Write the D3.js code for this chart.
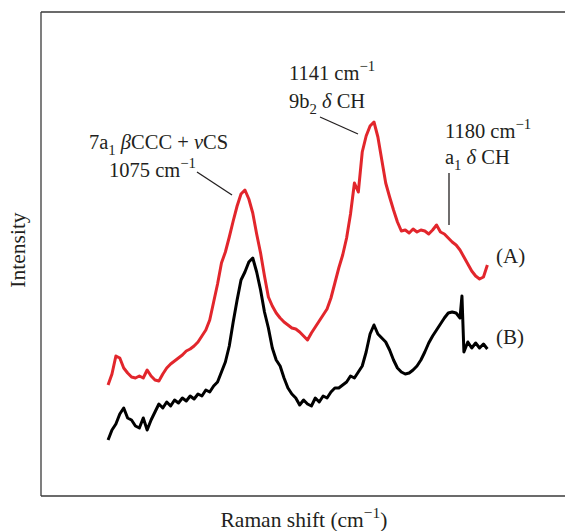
<!DOCTYPE html>
<html>
<head>
<meta charset="utf-8">
<script src="https://cdn.jsdelivr.net/npm/d3@7"></script>
<style>
  html, body { margin: 0; padding: 0; background: #fff; }
  svg text { font-family: "Liberation Serif", "DejaVu Serif", serif; fill: #231f20; }
</style>
</head>
<body>
<div id="chart"></div>
<script>
// Raman shift (cm-1), sampled every 2 cm-1 (one extra point for the spike in B)
const shiftA = [1006,1008,1010,1012,1014,1016,1018,1020,1022,1024,1026,1028,1030,1032,1034,1036,1038,1040,1042,1044,1046,1048,1050,1052,1054,1056,1058,1060,1062,1064,1066,1068,1070,1072,1074,1076,1078,1080,1082,1084,1086,1088,1090,1092,1094,1096,1098,1100,1102,1104,1106,1108,1110,1112,1114,1116,1118,1120,1122,1124,1126,1128,1130,1132,1134,1136,1138,1140,1142,1144,1146,1148,1150,1152,1154,1156,1158,1160,1162,1164,1166,1168,1170,1172,1174,1176,1178,1180,1182,1184,1186,1188,1190,1192,1194,1196,1198,1200];
const intensityA = [111,122,140,138,128,123,119,118,120,118,126,120,116,115,122,128,132,135,138,141,145,147,150,154,160,166,176,194,212,233,244,259,275,290,302,306,297,283,262,243,220,199,190,183,178,174,171,168,167,164,160,156,163,169,175,181,187,198,213,228,241,258,282,313,304,344,360,370,374,359,336,313,299,286,274,265,266,263,267,264,266,265,262,266,271,264,262,258,254,251,246,239,232,225,220,217,219,231];

const shiftB = [1006,1008,1010,1012,1014,1016,1018,1020,1022,1024,1026,1028,1030,1032,1034,1036,1038,1040,1042,1044,1046,1048,1050,1052,1054,1056,1058,1060,1062,1064,1066,1068,1070,1072,1074,1076,1078,1080,1082,1084,1086,1088,1090,1092,1094,1096,1098,1100,1102,1104,1106,1108,1110,1112,1114,1116,1118,1120,1122,1124,1126,1128,1130,1132,1134,1136,1138,1140,1142,1144,1146,1148,1150,1152,1154,1156,1158,1160,1162,1164,1166,1168,1170,1172,1174,1176,1178,1180,1182,1184,1186,1187,1188,1190,1192,1194,1196,1198,1200];
const intensityB = [56,66,72,82,88,78,76,70,68,78,66,76,84,92,88,94,90,96,93,98,95,100,97,102,100,106,104,110,114,124,134,150,174,196,216,224,234,238,224,206,184,168,148,136,130,118,108,102,98,91,96,92,90,98,94,100,98,104,108,108,111,114,120,118,124,130,144,162,171,162,158,154,146,136,128,124,122,123,126,130,136,144,153,160,166,172,178,183,184,183,178,200,144,154,148,153,148,152,147];

const width = 565, height = 531;
const margin = {top: 12, right: 0, bottom: 35, left: 41};

const svg = d3.select("#chart").append("svg")
  .attr("width", width)
  .attr("height", height);

const x = d3.scaleLinear()
  .domain([971.7, 1239.7])
  .range([margin.left, width - margin.right]);

const y = d3.scaleLinear()
  .domain([0, 484])
  .range([height - margin.bottom, margin.top]);

// frame (right side falls off the picture)
const frame = svg.append("g").attr("stroke", "#3a3a3a").attr("stroke-width", 1.3);
frame.append("line").attr("x1", x.range()[0]).attr("x2", x.range()[1] + 2)
  .attr("y1", y.range()[1]).attr("y2", y.range()[1]);
frame.append("line").attr("x1", x.range()[0]).attr("x2", x.range()[1] + 2)
  .attr("y1", y.range()[0]).attr("y2", y.range()[0]);
frame.append("line").attr("x1", x.range()[0]).attr("x2", x.range()[0])
  .attr("y1", y.range()[1]).attr("y2", y.range()[0]);

const line = d3.line()
  .x(d => x(d[0]))
  .y(d => y(d[1]));

const series = [
  {name: "(A)", color: "#e2262c", pts: d3.zip(shiftA, intensityA)},
  {name: "(B)", color: "#000000", pts: d3.zip(shiftB, intensityB)}
];

svg.append("g").selectAll("path")
  .data(series)
  .enter()
  .append("path")
  .attr("d", d => line(d.pts))
  .attr("fill", "none")
  .attr("stroke", d => d.color)
  .attr("stroke-width", 3)
  .attr("stroke-linejoin", "round");

// text with sub/superscripts: segments [text, kind]
function richText(g, px, py, segs, size, anchor) {
  const t = g.append("text").attr("x", px).attr("y", py)
    .attr("font-size", size).attr("text-anchor", anchor || "start");
  let shift = 0;
  segs.forEach(s => {
    const sp = t.append("tspan").text(s[0]);
    let target = 0;
    if (s[1] === "sub") { target = size * 0.3; sp.attr("font-size", size * 0.72); }
    if (s[1] === "sup") { target = -size * 0.42; sp.attr("font-size", size * 0.72); }
    if (s[1] === "it") sp.attr("font-style", "italic");
    if (target !== shift) { sp.attr("dy", target - shift); shift = target; }
  });
  return t;
}

const ann = svg.append("g");
const fs = 20.5;
richText(ann, 89, 149, [["7a"], ["1", "sub"], ["  "], ["β", "it"], ["CCC + "], ["ν", "it"], ["CS"]], fs);
richText(ann, 109, 177, [["1075 cm"], ["−1", "sup"]], fs);
richText(ann, 289, 80, [["1141 cm"], ["−1", "sup"]], fs);
richText(ann, 289, 108, [["9b"], ["2", "sub"], [" "], ["δ", "it"], [" CH"]], fs);
richText(ann, 445, 138, [["1180 cm"], ["−1", "sup"]], fs);
richText(ann, 445, 164, [["a"], ["1", "sub"], [" "], ["δ", "it"], [" CH"]], fs);

// leader lines
const leaders = [
  [197, 172, 232, 195],
  [320, 117, 358, 134],
  [449, 173, 449, 225]
];
ann.selectAll("line").data(leaders).enter().append("line")
  .attr("x1", d => d[0]).attr("y1", d => d[1])
  .attr("x2", d => d[2]).attr("y2", d => d[3])
  .attr("stroke", "#231f20").attr("stroke-width", 1.3);

// series labels
richText(ann, 496, 263, [["(A)"]], 21);
richText(ann, 496, 344, [["(B)"]], 21);

// axis titles
richText(svg, 304, 527, [["Raman shift (cm"], ["−1", "sup"], [")"]], 21.5, "middle");
richText(svg, 0, 0, [["Intensity"]], 21.5, "middle")
  .attr("transform", "translate(25,250) rotate(-90)");
</script>
</body>
</html>
